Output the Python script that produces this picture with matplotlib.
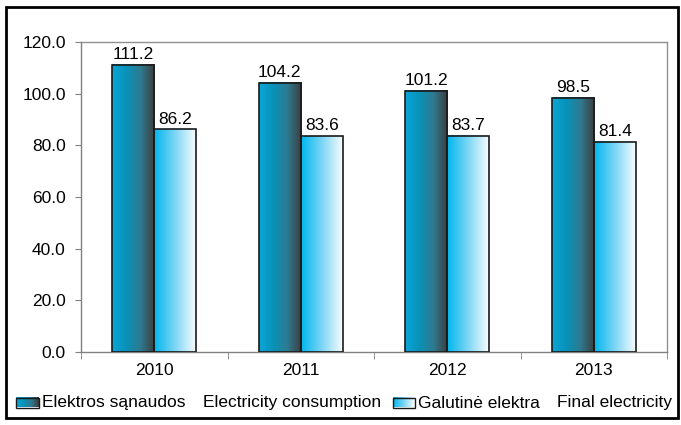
import numpy as np
import matplotlib
matplotlib.use("Agg")
import matplotlib.pyplot as plt
from matplotlib.patches import Rectangle
from matplotlib.colors import LinearSegmentedColormap

plt.rcParams['font.family'] = ['Liberation Sans', 'DejaVu Sans']

years = ['2010', '2011', '2012', '2013']
consumption = [111.2, 104.2, 101.2, 98.5]
final = [86.2, 83.6, 83.7, 81.4]
legend_lt = ['Elektros sąnaudos', 'Galutinė elektra']
legend_en = ['Electricity consumption', 'Final electricity']

FS = 12.5
cmap1 = LinearSegmentedColormap.from_list('c1', ['#0aa6d8', '#0892b8', '#2f7a90', '#3c3c3c'])
cmap2 = LinearSegmentedColormap.from_list('c2', ['#00b6ee', '#7fd6f5', '#ffffff'])
grad = np.linspace(0, 1, 256).reshape(1, -1)

fig = plt.figure(figsize=(6.81, 4.25), dpi=100)
ax = fig.add_axes([81/681, 1-352/425, (667-81)/681, (352-42)/425])

x = np.arange(len(years))
w = 0.287
for i in range(len(years)):
    for val, off, cm in [(consumption[i], -w/2, cmap1), (final[i], w/2, cmap2)]:
        x0 = x[i] + off - w/2
        ax.imshow(grad, cmap=cm, aspect='auto', extent=[x0, x0 + w, 0, val],
                  interpolation='bilinear', zorder=2)
        ax.add_patch(Rectangle((x0, 0), w, val, fill=False, edgecolor='#1a1a1a', lw=1.2, zorder=3))
        ax.text(x[i] + off, val + 1.0, f'{val:.1f}', ha='center', va='bottom', fontsize=FS, zorder=4)

ax.set_xlim(-0.5, len(years) - 0.5)
ax.set_ylim(0, 120)
ax.set_yticks(np.arange(0, 121, 20))
ax.set_yticklabels([f'{v:.1f}' for v in np.arange(0, 121, 20)], fontsize=FS)
ax.set_xticks(x)
ax.set_xticklabels(years, fontsize=FS)
ax.set_xticks(np.arange(-0.5, len(years), 1), minor=True)
ax.tick_params(axis='x', which='major', length=0, pad=8)
ax.tick_params(axis='x', which='minor', length=5, color='#808080', direction='out')
ax.tick_params(axis='y', length=4, color='#808080', direction='out', pad=7)
for s in ax.spines.values():
    s.set_color('#909090')
    s.set_linewidth(1.0)
ax.spines['left'].set_color('#808080')
ax.spines['bottom'].set_color('#808080')

# Legend (manual, with gradient swatches)
lax = fig.add_axes([0, 0, 1, 1], facecolor='none')
lax.set_xlim(0, 681)
lax.set_ylim(425, 0)
lax.axis('off')
for (bx0, bx1, tx, tx2, cm, lt, en) in [(16, 39, 42, 203, cmap1, legend_lt[0], legend_en[0]),
                                        (393, 415, 418, 557, cmap2, legend_lt[1], legend_en[1])]:
    lax.imshow(grad, cmap=cm, aspect='auto', extent=[bx0, bx1, 407.5, 397.5], interpolation='bilinear')
    lax.add_patch(Rectangle((bx0, 397.5), bx1 - bx0, 10, fill=False, edgecolor='#1a1a1a', lw=1.0))
    lax.text(tx, 403, lt, ha='left', va='center', fontsize=FS)
    lax.text(tx2, 403, en, ha='left', va='center', fontsize=FS)
lax.set_xlim(0, 681)
lax.set_ylim(425, 0)

# Figure border
lax.add_patch(Rectangle((6, 7), 672, 411, fill=False, edgecolor='black', lw=2))

fig.savefig('out.png', dpi=100)
